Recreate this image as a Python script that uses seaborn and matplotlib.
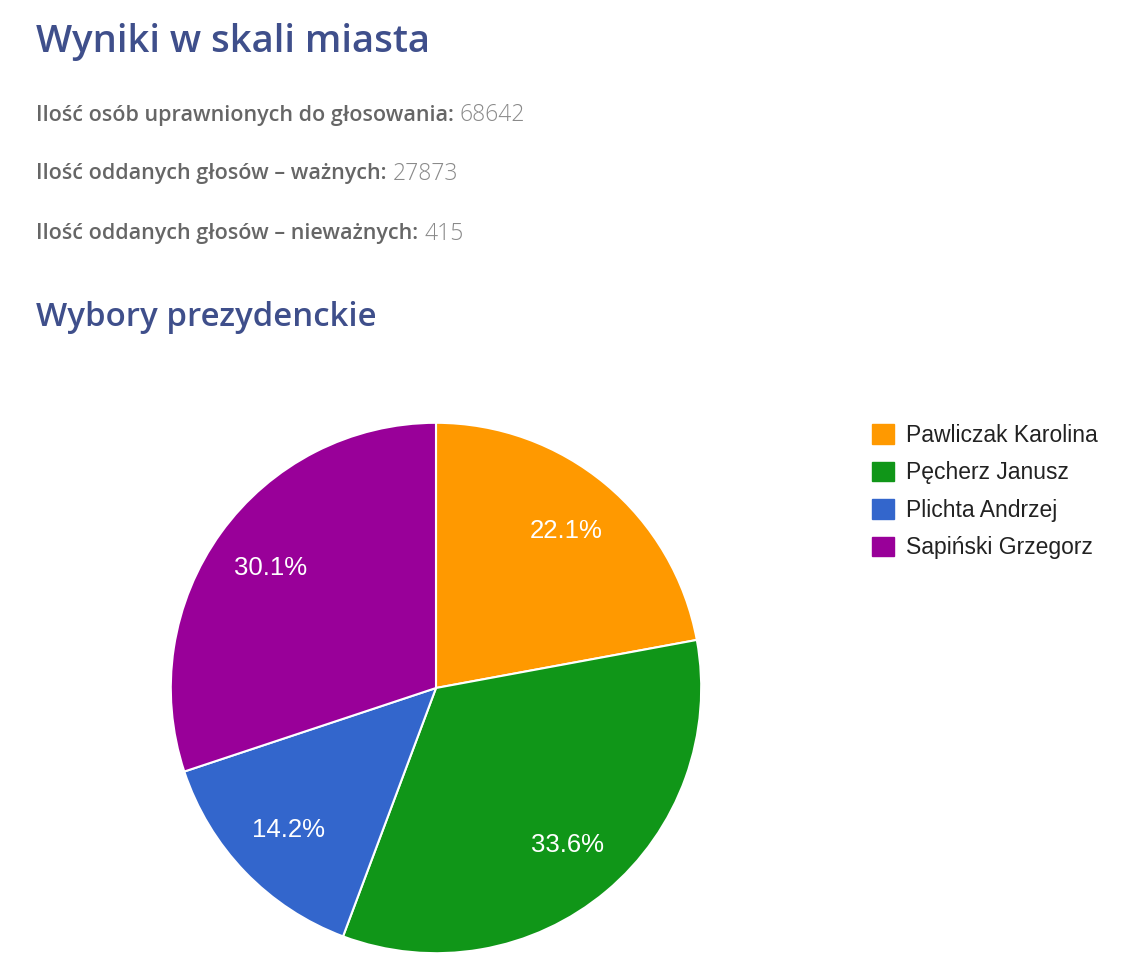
import matplotlib
matplotlib.use("Agg")
import matplotlib.pyplot as plt
import seaborn as sns
from matplotlib.patches import Patch

# ---- data ----
title = "Wyniki w skali miasta"
info_labels = ["Ilość osób uprawnionych do głosowania:",
               "Ilość oddanych głosów – ważnych:",
               "Ilość oddanych głosów – nieważnych:"]
info_values = ["68642", "27873", "415"]
subtitle = "Wybory prezydenckie"
candidates = ["Pawliczak Karolina", "Pęcherz Janusz", "Plichta Andrzej", "Sapiński Grzegorz"]
shares = [22.1, 33.6, 14.2, 30.1]
colors = ["#ff9900", "#109618", "#3366cc", "#990099"]

sns.set_theme(style="white")
plt.rcParams['font.family'] = ['Open Sans', 'DejaVu Sans']

W, H = 1140, 980
fig = plt.figure(figsize=(W / 100, H / 100), dpi=100)
fig.patch.set_facecolor("white")

head_col = "#3f4f8b"
fig.text(36 / W, 1 - 42 / H, title, fontsize=27.5, fontweight="semibold",
         color=head_col, va="center", ha="left")
fig.text(36 / W, 1 - 317 / H, subtitle, fontsize=23.8, fontweight="semibold",
         color=head_col, va="center", ha="left")

fig.canvas.draw()
renderer = fig.canvas.get_renderer()
ys = [115, 174, 234]
for lab, val, y in zip(info_labels, info_values, ys):
    t = fig.text(36 / W, 1 - y / H, lab, fontsize=15.5, fontweight="semibold",
                 color="#666666", va="center", ha="left")
    bb = t.get_window_extent(renderer=renderer)
    fig.text((bb.x1 + 6) / W, 1 - y / H, val, fontsize=16.5, fontweight="light",
             color="#8a8a8a", va="center", ha="left")

# pie axes
cx, cy, r = 436, 688, 266
ax = fig.add_axes([(cx - r) / W, 1 - (cy + r) / H, 2 * r / W, 2 * r / H])
wedges, texts, autotexts = ax.pie(
    shares, colors=colors, startangle=90, counterclock=False,
    autopct="%.1f%%", pctdistance=0.77, radius=1.0,
    wedgeprops=dict(edgecolor="white", linewidth=1.5),
    textprops=dict(color="white", fontsize=18.5, family=['Liberation Sans', 'DejaVu Sans']))
ax.set_xlim(-1.003, 1.003)
ax.set_ylim(-1.003, 1.003)
ax.set_aspect("equal")
ax.axis("off")

handles = [Patch(facecolor=c, edgecolor=c) for c in colors]
leg = fig.legend(handles, candidates, loc="upper left",
                 bbox_to_anchor=(872 / W, 1 - 424 / H), frameon=False,
                 prop=dict(family=['Liberation Sans', 'DejaVu Sans'], size=16.5),
                 handlelength=0.95, handleheight=0.95, handletextpad=0.55,
                 labelspacing=0.63, borderaxespad=0, borderpad=0)
for t in leg.get_texts():
    t.set_color("#222222")

fig.savefig("out.png", dpi=100, facecolor="white")
